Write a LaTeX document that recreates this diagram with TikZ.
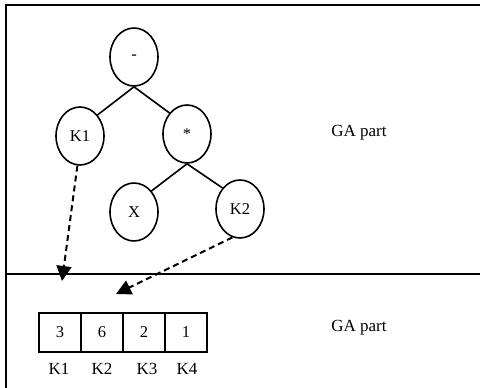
\documentclass[tikz,border=0pt]{standalone}
\usepackage{fontspec}
\setmainfont{Liberation Serif}
\usetikzlibrary{shapes.geometric,arrows.meta}
\begin{document}
\begin{tikzpicture}[x=1pt,y=-1pt,
  treenode/.style={draw,ellipse,line width=1.6pt,minimum width=48pt,minimum height=58pt,inner sep=0pt,font=\fontsize{16.5}{18}\selectfont},
  cell/.style={draw,line width=1.5pt,minimum width=42pt,minimum height=39pt,inner sep=0pt,font=\fontsize{16.5}{18}\selectfont},
  lbl/.style={font=\fontsize{17}{19}\selectfont},
  edge/.style={line width=1.6pt},
  darrow/.style={line width=2pt,dash pattern=on 6pt off 4pt,-{Triangle[length=15pt,width=15pt]}}]
\useasboundingbox (0,0) rectangle (480,388);
\draw[line width=1.8pt] (480,5) -- (6,5) -- (6,388);
\draw[line width=1.8pt] (6,274) -- (480,274);
\node[treenode] (root) at (134,57) {-};
\node[treenode] (k1) at (80,136) {K1};
\node[treenode] (mul) at (187,134) {*};
\node[treenode] (x) at (134,212) {X};
\node[treenode] (k2) at (240,209) {K2};
\draw[edge] (root.south) -- (k1.north east);
\draw[edge] (root.south) -- (mul.north west);
\draw[edge] (mul.south) -- (x.north east);
\draw[edge] (mul.south) -- (k2.north west);
\node[cell] (c1) at (60,332.5) {3};
\node[cell] (c2) at (102,332.5) {6};
\node[cell] (c3) at (144,332.5) {2};
\node[cell] (c4) at (186,332.5) {1};
\node[lbl] (l1) at (59,369) {K1};
\node[lbl] (l2) at (102,369) {K2};
\node[lbl] (l3) at (147,369) {K3};
\node[lbl] (l4) at (187,369) {K4};
\node[lbl] (ga1) at (359,133) {GA part};
\node[lbl] (ga2) at (359,328) {GA part};
\coordinate (t1) at (62,281);
\coordinate (t2) at (116,294);
\draw[darrow] (k1.-95) -- (t1);
\draw[darrow] (k2.-105) -- (t2);
\end{tikzpicture}
\end{document}
